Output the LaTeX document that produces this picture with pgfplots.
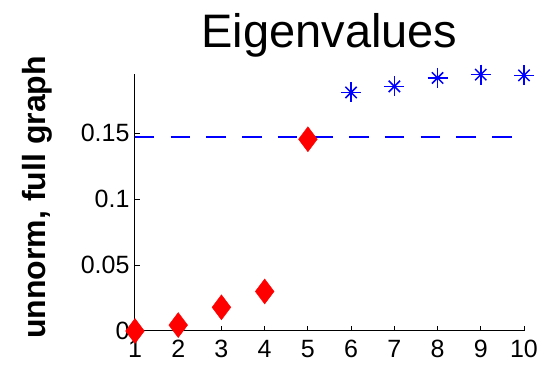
\documentclass[border=0pt]{standalone}
\usepackage{fontspec}
\setmainfont{Liberation Sans}
\usepackage{pgfplots}
\pgfplotsset{compat=1.18}
\begin{document}
\begin{tikzpicture}
\begin{axis}[
  scale only axis, width=389pt, height=257pt,
  xmin=1, xmax=10, ymin=0, ymax=0.195,
  axis x line*=bottom, axis y line*=left,
  axis line style={-, line width=1pt},
  tick align=inside, major tick length=5pt,
  tick style={line width=1pt, black},
  xtick={1,2,...,10},
  ytick={0,0.05,0.1,0.15},
  yticklabels={0,0.05,0.1,0.15},
  xticklabels={1,2,3,4,5,6,7,8,9,10},
  /pgf/number format/assume math mode=true,
  ticklabel style={font=\fontsize{25}{25}\selectfont},
  xticklabel style={yshift=-6pt},
  yticklabel style={xshift=-2pt},
  clip=false,
]
\addplot[draw=blue, color=blue, no marks, line width=1.8pt, dash pattern=on 19.5pt off 16.2pt] coordinates {(1,0.147) (10,0.147)};
\addplot[only marks, mark=diamond*, mark size=12.5pt, red, mark options={fill=red, draw=red}] coordinates {
(1,0) (2,0.0045) (3,0.018) (4,0.030) (5,0.1455)};
\addplot[only marks, mark=+, mark size=10pt, blue, mark options={line width=1.5pt}] coordinates {
(6,0.181) (7,0.1856) (8,0.192) (9,0.1945) (10,0.194)};
\addplot[only marks, mark=x, mark size=8pt, blue, mark options={line width=1.5pt}] coordinates {
(6,0.181) (7,0.1856) (8,0.192) (9,0.1945) (10,0.194)};
\node[rotate=90, font=\fontsize{32}{32}\selectfont\bfseries, anchor=center] at (axis description cs:-0.252,0.52) {unnorm, full graph};
\node[font=\fontsize{47}{47}\selectfont, anchor=base] at (axis description cs:0.5,1) [yshift=26pt] {Eigenvalues};
\end{axis}
\path[use as bounding box] (-135pt,-41pt) rectangle (411pt,331pt);
\end{tikzpicture}
\end{document}
